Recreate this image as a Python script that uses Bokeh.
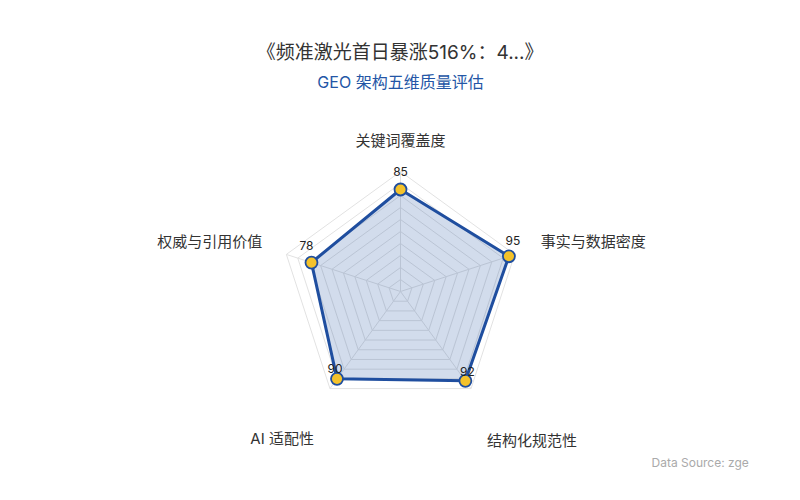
import numpy as np
from bokeh.plotting import figure
from bokeh.models import Range1d
from bokeh.core.properties import value
from bokeh.embed import file_html
from bokeh.resources import INLINE

# ---------------- data ----------------
title_text = "《频准激光首日暴涨516%：4...》"
subtitle_text = "GEO 架构五维质量评估"
dimensions = ["关键词覆盖度", "事实与数据密度", "结构化规范性", "AI 适配性", "权威与引用价值"]
scores = [85, 95, 92, 90, 78]
max_value = 100
ring_levels = [10, 20, 30, 40, 50, 60, 70, 80, 90, 100]
source_note = "Data Source: zge"

# ---------------- layout / style ----------------
PX = 1.2  # screen pixels per value unit
CX, CY = 400, 291  # radar centre on screen
W, H = 784, 484
FONT = value("Inter, Noto Sans CJK SC")
BLUE = "#1f4e9f"
GRID = "#e2e2e2"

p = figure(width=W, height=H,
           x_range=Range1d(-CX / PX, (W - CX) / PX),
           y_range=Range1d(-(H - CY) / PX, CY / PX),
           output_backend="svg", toolbar_location=None, min_border=0)
p.axis.visible = False
p.grid.visible = False
p.outline_line_color = None
p.background_fill_color = "white"
p.border_fill_color = "white"

n = len(dimensions)
angles = np.pi / 2 - 2 * np.pi * np.arange(n) / n
cosa, sina = np.cos(angles), np.sin(angles)

# rings
for lv in ring_levels:
    xs = list(lv * cosa) + [lv * cosa[0]]
    ys = list(lv * sina) + [lv * sina[0]]
    p.line(xs, ys, line_color=GRID, line_width=1)

# spokes
p.multi_line([[0, max_value * c] for c in cosa], [[0, max_value * s] for s in sina],
             line_color=GRID, line_width=1)

# data polygon
sx = np.array(scores) * cosa
sy = np.array(scores) * sina
p.patch(list(sx), list(sy), fill_color=BLUE, fill_alpha=0.2,
        line_color=BLUE, line_width=3, line_join="round")
p.scatter(list(sx), list(sy), size=12, fill_color="#f4c22b",
          line_color=BLUE, line_width=1.8)

# value labels
val_off = [(0, -18), (4, -16), (2, -9), (-2, -10), (-5, -17)]
for i in range(n):
    p.text([sx[i]], [sy[i]], text=[str(scores[i])], x_offset=val_off[i][0], y_offset=val_off[i][1],
           text_font=FONT, text_font_size="12px", text_color="#222",
           text_align="center", text_baseline="middle")

# dimension labels
lab_off = [(0, -31, "center"), (26, -13, "left"), (16, 52, "left"), (-16, 50, "right"), (-24, -13, "right")]
for i in range(n):
    dx, dy, al = lab_off[i]
    p.text([max_value * cosa[i]], [max_value * sina[i]], text=[dimensions[i]],
           x_offset=dx, y_offset=dy, text_font=FONT, text_font_size="15px",
           text_color="#333", text_align=al, text_baseline="middle")

# title & subtitle
p.text([0], [(CY - 52) / PX], text=[title_text], text_font=FONT, text_font_size="19px",
       text_color="#333", text_align="center", text_baseline="middle")
p.text([0], [(CY - 81) / PX], text=[subtitle_text], text_font=FONT, text_font_size="16px",
       text_color="#2456a6", text_align="center", text_baseline="middle")

# source note
p.text([(651 - CX) / PX], [(CY - 462) / PX], text=[source_note], text_font=FONT,
       text_font_size="12px", text_color="#aaaaaa", text_align="left", text_baseline="middle")

open("out.html", "w").write(file_html(p, INLINE))
